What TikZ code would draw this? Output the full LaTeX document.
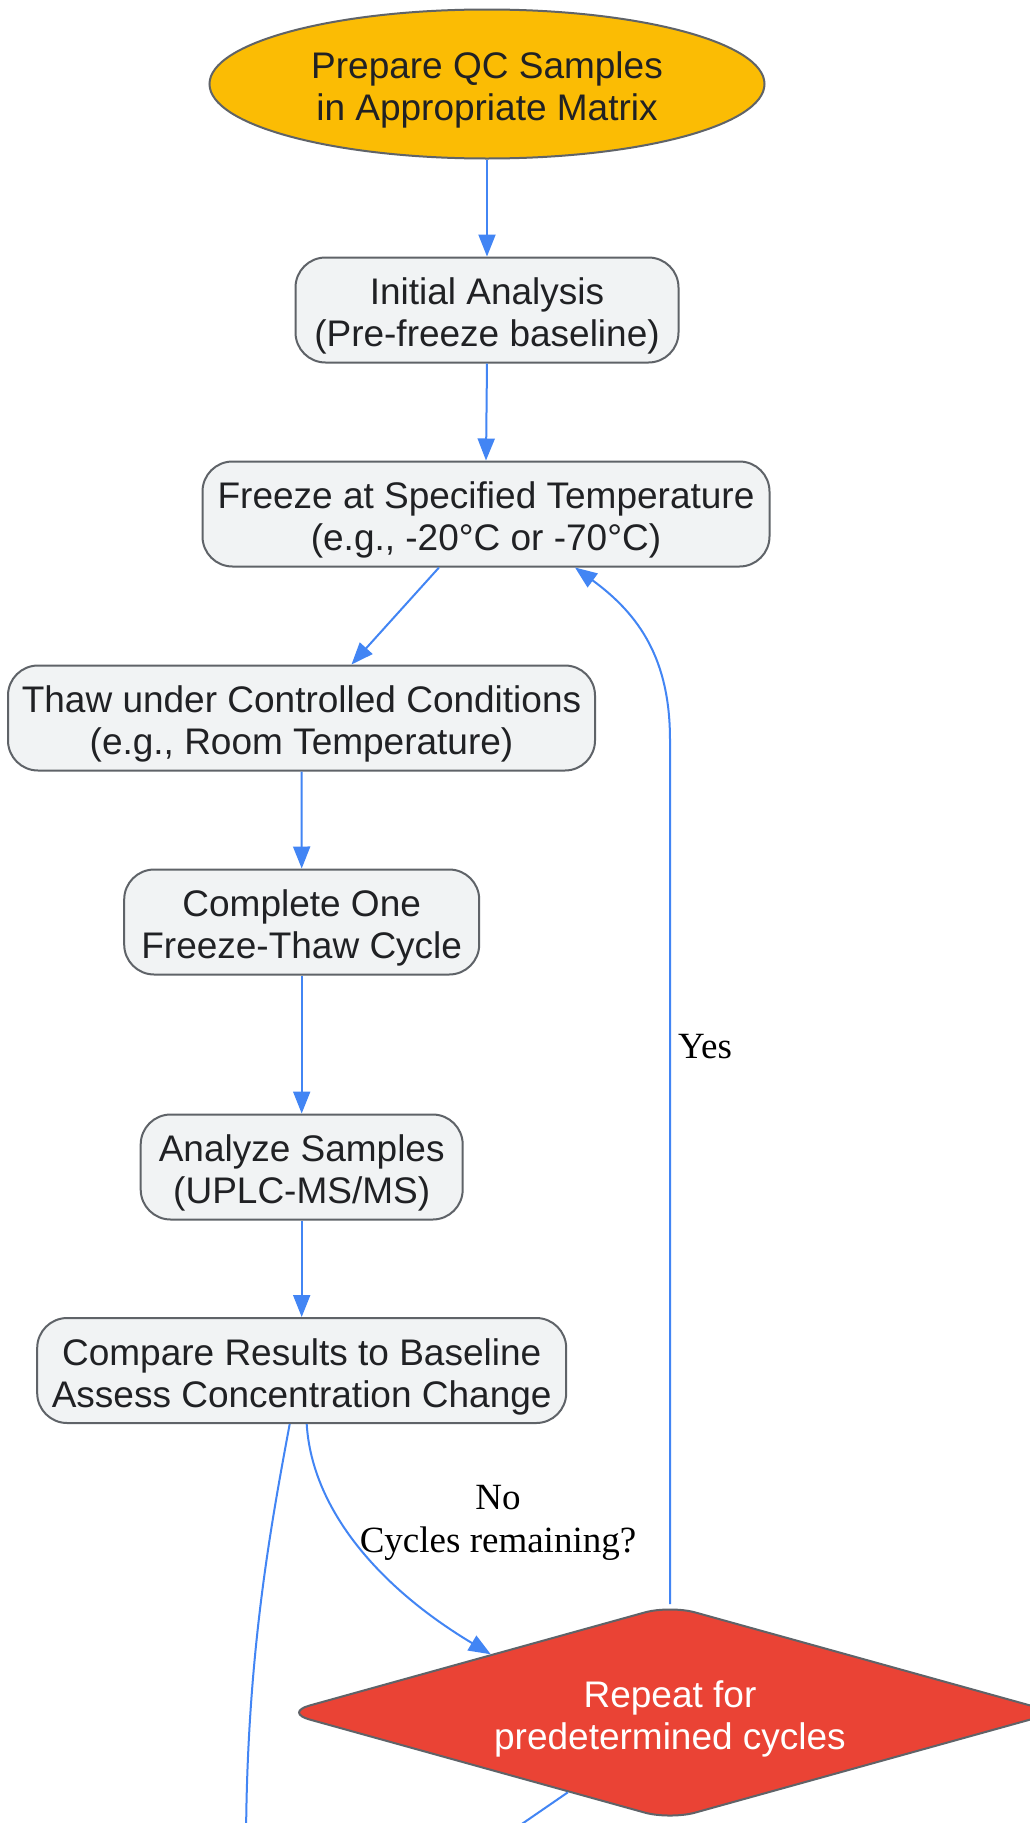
\documentclass[tikz,border=0pt]{standalone}
\usepackage{fontspec}
\setmainfont{Liberation Sans}
\newfontfamily\labelfont{Liberation Serif}
\usetikzlibrary{arrows.meta,shapes.geometric,calc}
\definecolor{boxfill}{HTML}{F1F3F4}
\definecolor{boxline}{HTML}{5F6368}
\definecolor{arrowblue}{HTML}{4285F4}
\definecolor{startyellow}{HTML}{FBBC04}
\definecolor{decred}{HTML}{EA4335}
\definecolor{txt}{HTML}{202124}
\newcommand\mytopstrut{\rule{0pt}{39pt}}
\tikzset{
  basefont/.style={font=\fontsize{37}{42}\selectfont, text=txt, align=center},
  stepbox/.style={basefont, draw=boxline, fill=boxfill, line width=2pt, rounded corners=30pt,
    minimum height=105pt, inner sep=0pt},
  startnode/.style={basefont, ellipse, draw=boxline, fill=startyellow, line width=2pt, inner sep=0pt},
  decnode/.style={basefont, diamond, shape aspect=3.59, draw=boxline, fill=decred, line width=2pt,
    rounded corners=26pt, text=white, inner sep=0pt},
  conn/.style={draw=arrowblue, line width=2pt, -{Triangle[length=22pt,width=17pt]}},
  plainconn/.style={draw=arrowblue, line width=2pt},
  edgelabel/.style={font=\labelfont\fontsize{37}{43}\selectfont, text=black, align=center, inner sep=0pt}
}
\begin{document}
\begin{tikzpicture}[x=1pt,y=-1pt]
\useasboundingbox[fill=white] (0,0) rectangle (1030,1823);

\node[startnode, minimum width=555pt, minimum height=149pt] (start) at (487,84)
  {\mytopstrut Prepare QC Samples\\in Appropriate Matrix};
\node[stepbox, minimum width=383pt] (b1) at (487,310) {\mytopstrut Initial Analysis\\(Pre-freeze baseline)};
\node[stepbox, minimum width=567pt] (b2) at (486,514) {\mytopstrut Freeze at Specified Temperature\\(e.g., -20°C or -70°C)};
\node[stepbox, minimum width=587pt] (b3) at (301.5,718) {\mytopstrut Thaw under Controlled Conditions\\(e.g., Room Temperature)};
\node[stepbox, minimum width=355pt] (b4) at (301.7,922) {\mytopstrut Complete One\\Freeze-Thaw Cycle};
\node[stepbox, minimum width=322pt] (b5) at (301.7,1167) {\mytopstrut Analyze Samples\\(UPLC-MS/MS)};
\node[stepbox, minimum width=529pt] (b6) at (301.7,1370.5) {\mytopstrut Compare Results to Baseline\\Assess Concentration Change};
\node[decnode, minimum width=772pt, minimum height=215pt] (dia) at (670,1712.5)
  {\mytopstrut Repeat for\\predetermined cycles};

\coordinate (ybend) at (670,740);
\coordinate (outA) at (246,1850);
\coordinate (outB) at (484,1850);

\draw[conn] (start.south) -- (b1.north);
\draw[conn] (b1.south) -- (b2.north);
\draw[conn] ([xshift=-47pt]b2.south) -- ([xshift=50pt]b3.north);
\draw[conn] (b3.south) -- (b4.north);
\draw[conn] (b4.south) -- (b5.north);
\draw[conn] (b5.south) -- (b6.north);
\draw[conn] ([xshift=5pt]b6.south) .. controls (312,1510) and (380,1588) .. (dia.162);
\draw[conn] (dia.north) -- (ybend) .. controls (670,660) and (640,615) .. ([xshift=89pt]b2.south);
\draw[plainconn] ([xshift=-12pt]b6.south) .. controls (270,1530) and (246,1660) .. (outA);
\draw[plainconn] (dia.218) -- (outB);

\node[edgelabel] (nolabel) at (498,1523) {No\\Cycles remaining?};
\node[edgelabel, anchor=west] (yeslabel) at (678,1047) {Yes};
\end{tikzpicture}
\end{document}
